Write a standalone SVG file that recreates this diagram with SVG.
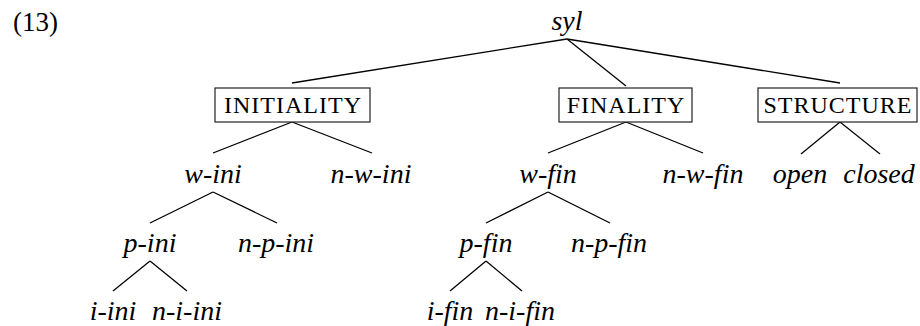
<svg xmlns="http://www.w3.org/2000/svg" width="920" height="326" viewBox="0 0 920 326">
<style>
.t{font-family:"Liberation Serif","Times New Roman",serif;font-style:italic;font-size:28px;fill:#000;text-anchor:middle}
.r{font-family:"Liberation Serif","Times New Roman",serif;font-size:24px;fill:#000;text-anchor:middle;letter-spacing:1px}
.b{fill:#fff;stroke:#222;stroke-width:1.2}
.e{stroke:#000;stroke-width:1.3;fill:none}
</style>
<rect width="920" height="326" fill="#fff"/>
<text x="13" y="31" style="font-family:'Liberation Serif','Times New Roman',serif;font-size:27px">(13)</text>
<g id="connectors">
<line class="e" x1="567" y1="39" x2="292" y2="83"/>
<line class="e" x1="567" y1="39" x2="626" y2="86"/>
<line class="e" x1="567" y1="39" x2="840" y2="83"/>
<line class="e" x1="292" y1="122" x2="213" y2="153"/>
<line class="e" x1="292" y1="122" x2="372" y2="153"/>
<line class="e" x1="213" y1="192" x2="150" y2="223"/>
<line class="e" x1="213" y1="192" x2="277" y2="223"/>
<line class="e" x1="150" y1="261" x2="113" y2="291"/>
<line class="e" x1="150" y1="261" x2="187" y2="291"/>
<line class="e" x1="626" y1="122" x2="548" y2="153"/>
<line class="e" x1="626" y1="122" x2="703" y2="153"/>
<line class="e" x1="548" y1="192" x2="486" y2="223"/>
<line class="e" x1="548" y1="192" x2="610" y2="223"/>
<line class="e" x1="486" y1="261" x2="450" y2="291"/>
<line class="e" x1="486" y1="261" x2="522" y2="291"/>
<line class="e" x1="840" y1="122" x2="801" y2="154"/>
<line class="e" x1="840" y1="122" x2="880" y2="154"/>
</g>
<g id="syl"><text class="t" x="567" y="30">syl</text></g>
<g id="initiality"><rect class="b" x="215" y="88" width="155" height="34"/><text class="r" x="293" y="113">INITIALITY</text></g>
<g id="finality"><rect class="b" x="559" y="88" width="133" height="34"/><text class="r" x="626" y="113">FINALITY</text></g>
<g id="structure"><rect class="b" x="758" y="88" width="159" height="34"/><text class="r" x="838" y="113">STRUCTURE</text></g>
<g id="w-ini"><text class="t" x="213" y="183">w-ini</text></g>
<g id="n-w-ini"><text class="t" x="371" y="183">n-w-ini</text></g>
<g id="w-fin"><text class="t" x="548" y="183">w-fin</text></g>
<g id="n-w-fin"><text class="t" x="703" y="183">n-w-fin</text></g>
<g id="open"><text class="t" x="800" y="183">open</text></g>
<g id="closed"><text class="t" x="879" y="183">closed</text></g>
<g id="p-ini"><text class="t" x="150" y="252">p-ini</text></g>
<g id="n-p-ini"><text class="t" x="276" y="252">n-p-ini</text></g>
<g id="p-fin"><text class="t" x="486" y="252">p-fin</text></g>
<g id="n-p-fin"><text class="t" x="609" y="252">n-p-fin</text></g>
<g id="i-ini"><text class="t" x="113" y="320">i-ini</text></g>
<g id="n-i-ini"><text class="t" x="187" y="320">n-i-ini</text></g>
<g id="i-fin"><text class="t" x="450" y="320">i-fin</text></g>
<g id="n-i-fin"><text class="t" x="520" y="320">n-i-fin</text></g>
</svg>
